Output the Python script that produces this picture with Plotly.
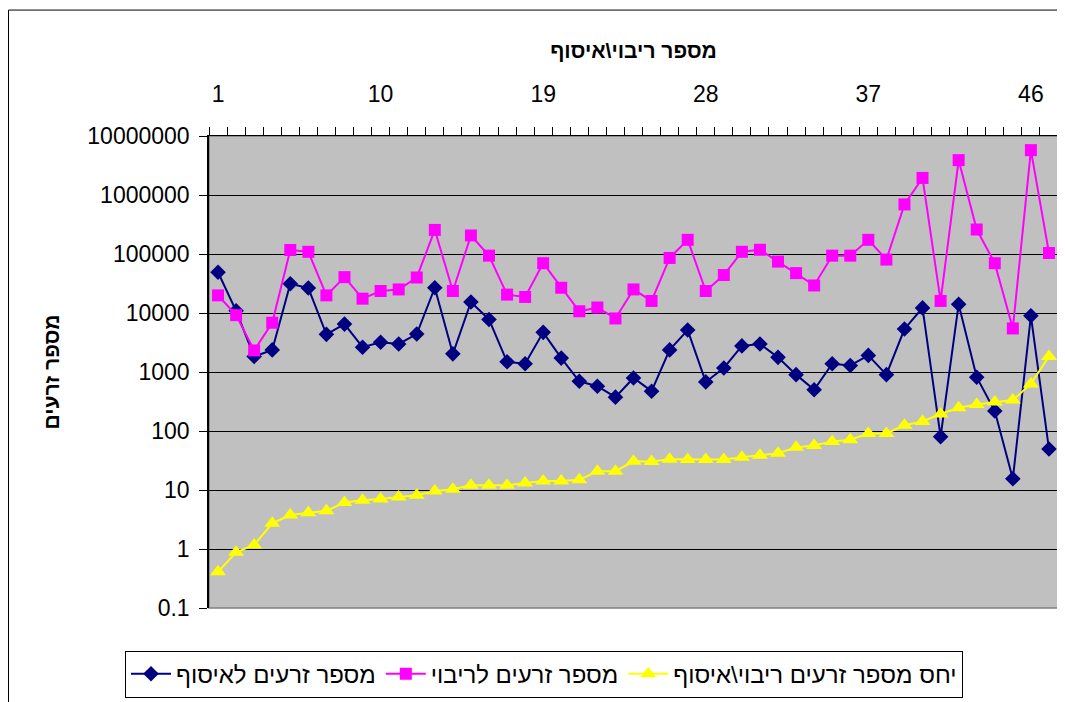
import plotly.graph_objects as go

categories = list(range(1, 48))

seeds_collect = [49000, 10900, 1830, 2370, 31300, 26500, 4350, 6490, 2630, 3190,
                 2990, 4400, 26800, 2030, 15400, 7780, 1490, 1380, 4700, 1720,
                 697, 574, 375, 793, 473, 2370, 5140, 679, 1170, 2770,
                 2990, 1770, 902, 500, 1380, 1290, 1910, 902, 5350, 12200,
                 80, 14100, 815, 218, 15.5, 8970, 49.4]

seeds_multiply = [19900, 9190, 2320, 6840, 117000, 109000, 19900, 40500, 17500, 23600,
                  25100, 40000, 256000, 23600, 206000, 93800, 20500, 18700, 69800, 26800,
                  10700, 12400, 8090, 25100, 16000, 85700, 174000, 23600, 44000, 109000,
                  118000, 74300, 47400, 29300, 93800, 93800, 174000, 80500, 692000, 1946000,
                  16000, 3900000, 260000, 69800, 5480, 5760000, 104000]

ratio = [0.41, 0.88, 1.17, 2.72, 3.76, 4.1, 4.43, 6.12, 6.7, 7.06,
         7.63, 8.15, 9.6, 10.3, 12, 12, 12, 13.1, 14.2, 14.2,
         14.9, 20.8, 20.8, 30.7, 30.3, 33.2, 33, 33, 33, 35.9,
         38.7, 41.9, 52.8, 57, 66.7, 71, 90.8, 90.8, 125, 145,
         195, 248, 282, 309, 334, 628, 1837]

series_names = ["מספר זרעים לאיסוף", "מספר זרעים לריבוי", "יחס מספר זרעים ריבוי\\איסוף"]
x_title = "מספר ריבוי\\איסוף"
y_title = "מספר זרעים"

x_tick_vals = [1, 10, 19, 28, 37, 46]
x_tick_text = ["1", "10", "19", "28", "37", "46"]
y_tick_vals = [0.1, 1, 10, 100, 1000, 10000, 100000, 1000000, 10000000]
y_tick_text = ["0.1", "1", "10", "100", "1000", "10000", "100000", "1000000", "10000000"]

FONT = "Liberation Sans, Arial, sans-serif"

fig = go.Figure()
fig.add_trace(go.Scatter(
    x=categories, y=seeds_collect, name=series_names[0], mode="lines+markers",
    line=dict(color="#000080", width=2),
    marker=dict(symbol="diamond", size=12, color="#000080")))
fig.add_trace(go.Scatter(
    x=categories, y=seeds_multiply, name=series_names[1], mode="lines+markers",
    line=dict(color="#FF00FF", width=2),
    marker=dict(symbol="square", size=12, color="#FF00FF")))
fig.add_trace(go.Scatter(
    x=categories, y=ratio, name=series_names[2], mode="lines+markers",
    line=dict(color="#FFFF00", width=2),
    marker=dict(symbol="triangle-up", size=14, color="#FFFF00")))

W, H = 1065, 702
L, T = 201, 128
pw, ph = 849, 476
R, B = W - L - pw, H - T - ph

def px_x(p):
    return (p - L) / pw

def px_y(p):
    return (T + ph - p) / ph

fig.update_layout(
    width=W, height=H,
    margin=dict(l=L, r=R, t=T, b=B, pad=0),
    paper_bgcolor="white",
    plot_bgcolor="#C0C0C0",
    font=dict(family=FONT, color="black", size=20),
    showlegend=True,
    legend=dict(
        orientation="h", x=px_x(536), xanchor="center",
        y=px_y(647), yanchor="top",
        bordercolor="black", borderwidth=1, bgcolor="white",
        font=dict(size=24, family=FONT), itemwidth=40,
        traceorder="normal",
    ),
    xaxis=dict(
        range=[0.5, 47.5], side="top",
        tickmode="array", tickvals=x_tick_vals, ticktext=x_tick_text,
        ticks="outside", ticklen=24, tickcolor="rgba(0,0,0,0)",
        tickfont=dict(size=23, family=FONT),
        minor=dict(tick0=0.5, dtick=1, ticks="outside", ticklen=8,
                   tickcolor="black", showgrid=False),
        showgrid=False, zeroline=False,
        showline=True, linecolor="black", linewidth=1,
        title=dict(text="<b>" + x_title + "</b>", font=dict(size=21, family=FONT),
                   standoff=16),
    ),
    yaxis=dict(
        type="log", range=[-1, 7],
        tickmode="array", tickvals=y_tick_vals, ticktext=y_tick_text,
        ticks="outside", ticklen=8, tickcolor="black",
        ticklabelstandoff=5,
        tickfont=dict(size=23, family=FONT),
        showgrid=True, gridcolor="black", gridwidth=1,
        zeroline=False,
        showline=True, linecolor="black", linewidth=1.5,
        title=dict(text="<b>" + y_title + "</b>", font=dict(size=21, family=FONT),
                   standoff=22),
    ),
    shapes=[
        dict(type="rect", xref="paper", yref="paper",
             x0=0, x1=1, y0=0, y1=1,
             line=dict(color="#808080", width=1.5), layer="below",
             fillcolor="rgba(0,0,0,0)"),
        dict(type="rect", xref="paper", yref="paper",
             x0=px_x(0.5), x1=px_x(1075), y0=px_y(720), y1=px_y(1),
             line=dict(color="black", width=1), fillcolor="rgba(0,0,0,0)"),
    ],
)

fig.write_html("out.html")
